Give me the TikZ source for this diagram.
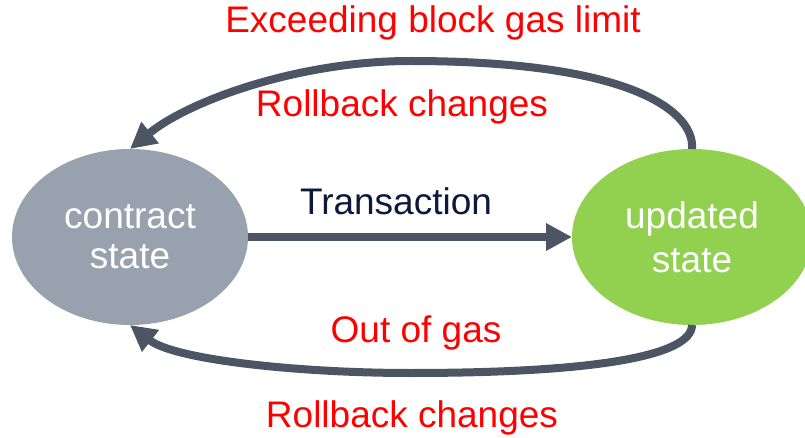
\documentclass[tikz,border=0pt]{standalone}
\usepackage{fontspec}
\setmainfont{Liberation Sans}
\usetikzlibrary{arrows.meta,shapes.geometric}

\definecolor{flowgray}{RGB}{75,85,99}
\definecolor{stategray}{RGB}{151,162,174}
\definecolor{stategreen}{RGB}{146,208,80}
\definecolor{navytext}{RGB}{12,24,60}

\begin{document}
\begin{tikzpicture}[
    x=1pt, y=-1pt,
    state/.style={ellipse, inner sep=0pt, outer sep=0pt, text=white, align=center, font=\fontsize{37}{40}\selectfont},
    note/.style={anchor=base, inner sep=0pt, text=red, font=\fontsize{37}{40}\selectfont},
    flow/.style={line width=8pt, draw=flowgray, -{Triangle[length=26pt, width=26pt]}}
]

% Canvas
\useasboundingbox (0,0) rectangle (805,438);

% States
\node[state, fill=stategray, minimum width=236pt, minimum height=176pt] (contract) at (130,237) {contract\\state};
\node[state, fill=stategreen, minimum width=240pt, minimum height=176pt, font=\fontsize{37}{44}\selectfont] (updated) at (692,237) {updated\\state};

% Labels
\node[note] (exceed) at (433,33) {Exceeding block gas limit};
\node[note] (rollbacktop) at (402,117) {Rollback changes};
\node[note, text=navytext] (trans) at (396,215) {Transaction};
\node[note] (outgas) at (416,342) {Out of gas};
\node[note] (rollbackbot) at (412,427) {Rollback changes};

% Transitions
\draw[flow] (contract.east) -- (updated.west);
\draw[flow] (updated.north) .. controls (695,115) and (640,61) .. (410,61)
    .. controls (300,61) and (190,100) .. (contract.north);
\draw[flow] (updated.south) .. controls (692,355) and (600,373) .. (410,373)
    .. controls (300,373) and (175,360) .. (contract.south);

\end{tikzpicture}
\end{document}
